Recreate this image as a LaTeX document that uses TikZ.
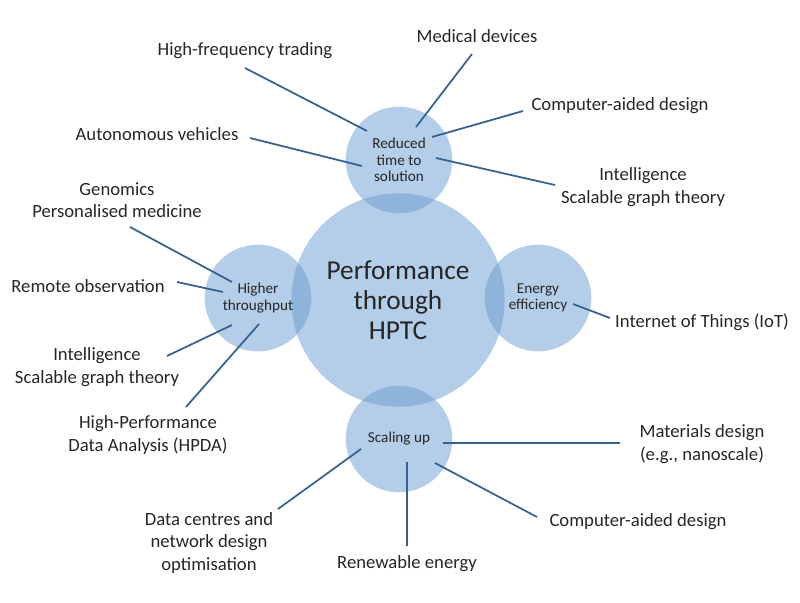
\documentclass[tikz,border=0pt]{standalone}
\usepackage{fontspec}
\setmainfont{Carlito}
\usetikzlibrary{positioning,calc}
\definecolor{hpblue}{HTML}{699BD1}
\definecolor{hpline}{HTML}{35608F}
\definecolor{hptext}{HTML}{262626}

\begin{document}
\begin{tikzpicture}[x=0.75pt, y=-0.75pt,
  hub/.style={circle, fill=hpblue, fill opacity=0.5, text opacity=1, minimum size=160pt, inner sep=0pt, align=center, text=hptext, font=\fontsize{20.5}{22.5}\selectfont},
  area/.style={hub, minimum size=80pt, font=\fontsize{11.4}{12.4}\selectfont},
  app/.style={align=center, inner sep=0pt, text=hptext, font=\fontsize{14}{16.8}\selectfont},
  link/.style={draw=hpline, line width=1.3pt}
]
  \useasboundingbox (0,0) rectangle (800,603);

  % circles
  \node[hub] (perf) at (398,300) {Performance\\through\\HPTC};
  \node[area] (reduced) at (399,160) {Reduced\\time to\\solution};
  \node[area] (higher) at (258,298) {Higher\\throughput};
  \node[area] (energy) at (538,298) {Energy\\efficiency};
  \node[area] (scaling) at (399,439) {Scaling up};

  % applications
  \node[app] (hft) at (245,51) {High-frequency trading};
  \node[app] (medical) at (477,36) {Medical devices};
  \node[app] (cadtop) at (620,106) {Computer-aided design};
  \node[app] (inteltop) at (643,187) {Intelligence\\Scalable graph theory};
  \node[app] (auto) at (157,134) {Autonomous vehicles};
  \node[app] (genomics) at (117,200) {Genomics\\Personalised medicine};
  \node[app] (remote) at (88,286) {Remote observation};
  \node[app] (intelleft) at (97,367) {Intelligence\\Scalable graph theory};
  \node[app] (hpda) at (148,435) {High-Performance\\Data Analysis (HPDA)};
  \node[app] (iot) at (702,322) {Internet of Things (IoT)};
  \node[app] (materials) at (702,444) {Materials design\\(e.g., nanoscale)};
  \node[app] (cadbot) at (638,522) {Computer-aided design};
  \node[app] (renew) at (407,564) {Renewable energy};
  \node[app] (datac) at (209,543) {Data centres and\\network design\\optimisation};

  % connectors
  \draw[link] ([shift={(0,17)}]hft.center) -- ([shift={(-32,-29)}]reduced.center);
  \draw[link] ([shift={(-5,18)}]medical.center) -- ([shift={(17,-33)}]reduced.center);
  \draw[link] ([shift={(-97,5)}]cadtop.center) -- ([shift={(33,-23)}]reduced.center);
  \draw[link] ([shift={(-88,-2)}]inteltop.center) -- ([shift={(37,-2)}]reduced.center);
  \draw[link] ([shift={(93,4)}]auto.center) -- ([shift={(-37,6)}]reduced.center);
  \draw[link] ([shift={(13,27)}]genomics.center) -- ([shift={(-26,-16)}]higher.center);
  \draw[link] ([shift={(89,-4)}]remote.center) -- ([shift={(-35,-6)}]higher.center);
  \draw[link] ([shift={(70,-11)}]intelleft.center) -- ([shift={(-26,27)}]higher.center);
  \draw[link] ([shift={(38,-28)}]hpda.center) -- ([shift={(1,26)}]higher.center);
  \draw[link] ([shift={(-92,-4)}]iot.center) -- ([shift={(35,6)}]energy.center);
  \draw[link] ([shift={(-82,-1)}]materials.center) -- ([shift={(44,4)}]scaling.center);
  \draw[link] ([shift={(-101,-5)}]cadbot.center) -- ([shift={(36,24)}]scaling.center);
  \draw[link] ([shift={(0,-18)}]renew.center) -- ([shift={(8,23)}]scaling.center);
  \draw[link] ([shift={(69,-34)}]datac.center) -- ([shift={(-38,10)}]scaling.center);
\end{tikzpicture}
\end{document}
